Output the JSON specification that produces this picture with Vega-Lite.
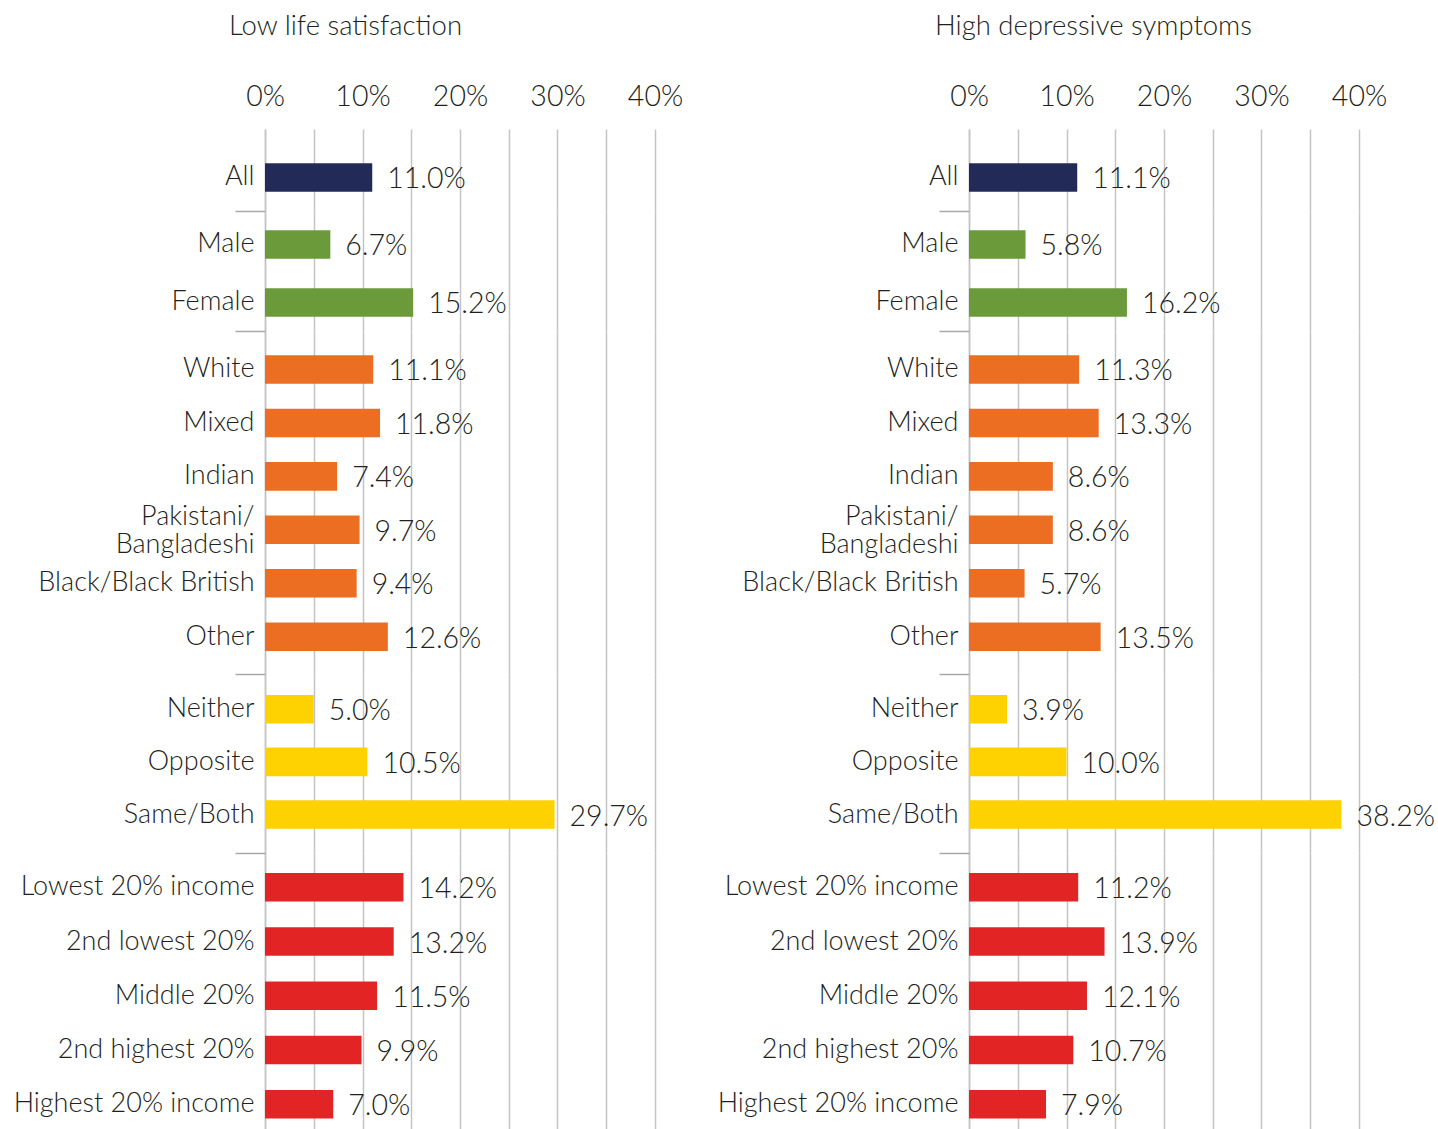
{
  "$schema": "https://vega.github.io/schema/vega-lite/v6.json",
  "background": "white",
  "padding": {"left": 13, "top": 12, "right": 2, "bottom": 0},
  "autosize": {"type": "pad"},
  "config": {"view": {"stroke": null}},
  "datasets": {
    "d": [
      {"m": "Low life satisfaction", "g": "All", "c": "All", "v": 0.110},
      {"m": "Low life satisfaction", "g": "Gender", "c": "Male", "v": 0.067},
      {"m": "Low life satisfaction", "g": "Gender", "c": "Female", "v": 0.152},
      {"m": "Low life satisfaction", "g": "Ethnicity", "c": "White", "v": 0.111},
      {"m": "Low life satisfaction", "g": "Ethnicity", "c": "Mixed", "v": 0.118},
      {"m": "Low life satisfaction", "g": "Ethnicity", "c": "Indian", "v": 0.074},
      {"m": "Low life satisfaction", "g": "Ethnicity", "c": "Pakistani/Bangladeshi", "v": 0.097},
      {"m": "Low life satisfaction", "g": "Ethnicity", "c": "Black/Black British", "v": 0.094},
      {"m": "Low life satisfaction", "g": "Ethnicity", "c": "Other", "v": 0.126},
      {"m": "Low life satisfaction", "g": "Sexual attraction", "c": "Neither", "v": 0.050},
      {"m": "Low life satisfaction", "g": "Sexual attraction", "c": "Opposite", "v": 0.105},
      {"m": "Low life satisfaction", "g": "Sexual attraction", "c": "Same/Both", "v": 0.297},
      {"m": "Low life satisfaction", "g": "Income", "c": "Lowest 20% income", "v": 0.142},
      {"m": "Low life satisfaction", "g": "Income", "c": "2nd lowest 20%", "v": 0.132},
      {"m": "Low life satisfaction", "g": "Income", "c": "Middle 20%", "v": 0.115},
      {"m": "Low life satisfaction", "g": "Income", "c": "2nd highest 20%", "v": 0.099},
      {"m": "Low life satisfaction", "g": "Income", "c": "Highest 20% income", "v": 0.070},
      {"m": "High depressive symptoms", "g": "All", "c": "All", "v": 0.111},
      {"m": "High depressive symptoms", "g": "Gender", "c": "Male", "v": 0.058},
      {"m": "High depressive symptoms", "g": "Gender", "c": "Female", "v": 0.162},
      {"m": "High depressive symptoms", "g": "Ethnicity", "c": "White", "v": 0.113},
      {"m": "High depressive symptoms", "g": "Ethnicity", "c": "Mixed", "v": 0.133},
      {"m": "High depressive symptoms", "g": "Ethnicity", "c": "Indian", "v": 0.086},
      {"m": "High depressive symptoms", "g": "Ethnicity", "c": "Pakistani/Bangladeshi", "v": 0.086},
      {"m": "High depressive symptoms", "g": "Ethnicity", "c": "Black/Black British", "v": 0.057},
      {"m": "High depressive symptoms", "g": "Ethnicity", "c": "Other", "v": 0.135},
      {"m": "High depressive symptoms", "g": "Sexual attraction", "c": "Neither", "v": 0.039},
      {"m": "High depressive symptoms", "g": "Sexual attraction", "c": "Opposite", "v": 0.100},
      {"m": "High depressive symptoms", "g": "Sexual attraction", "c": "Same/Both", "v": 0.382},
      {"m": "High depressive symptoms", "g": "Income", "c": "Lowest 20% income", "v": 0.112},
      {"m": "High depressive symptoms", "g": "Income", "c": "2nd lowest 20%", "v": 0.139},
      {"m": "High depressive symptoms", "g": "Income", "c": "Middle 20%", "v": 0.121},
      {"m": "High depressive symptoms", "g": "Income", "c": "2nd highest 20%", "v": 0.107},
      {"m": "High depressive symptoms", "g": "Income", "c": "Highest 20% income", "v": 0.079}
    ]
  },
  "columns": 2,
  "spacing": {"row": 0, "column": 314},
  "bounds": "flush",
  "resolve": {"scale": {"x": "independent", "y": "independent"}},
  "concat": [
    {
      "width": 390, "height": 82,
      "title": {"text": "Low life satisfaction", "anchor": "start", "frame": "group", "dx": -36, "offset": 20, "baseline": "alphabetic", "font": "Lato", "fontWeight": 300, "fontSize": 27.5, "color": "#231f20"},
      "data": {"name": "d"},
      "transform": [{"filter": "datum.m == 'Low life satisfaction' && datum.g == 'All'"}],
      "encoding": {
        "x": {"field": "v", "type": "quantitative", "scale": {"domain": [0, 0.4], "nice": false}, "axis": {"orient": "top", "values": [0, 0.05, 0.1, 0.15, 0.2, 0.25, 0.3, 0.35, 0.4], "format": ".0%", "labelExpr": "round(datum.value*100) % 10 == 0 ? datum.label : ''", "ticks": false, "tickSize": 0, "domain": false, "grid": true, "gridColor": "#c4c4c4", "gridWidth": 1.5, "labelFont": "Lato", "labelFontWeight": 300, "labelFontSize": 28.5, "labelColor": "#231f20", "labelPadding": 24, "labelBaseline": "alphabetic", "labelFlush": false, "labelOverlap": false, "title": null}},
        "y": {"field": "c", "type": "nominal", "sort": null, "scale": {"paddingInner": 0.47, "paddingOuter": 0.4944, "align": 0.64, "round": false}, "axis": {"title": null, "ticks": false, "tickSize": 0, "domain": true, "domainColor": "#c4c4c4", "domainWidth": 1.5, "labelFont": "Lato", "labelFontWeight": 300, "labelFontSize": 27, "labelColor": "#231f20", "labelPadding": 11, "labelLimit": 0}}
      },
      "layer": [
        {"mark": {"type": "bar"}, "encoding": {"color": {"field": "g", "type": "nominal", "scale": {"domain": ["All", "Gender", "Ethnicity", "Sexual attraction", "Income"], "range": ["#222b58", "#6b9a3b", "#ec6e23", "#fed100", "#e32424"]}, "legend": null}}},
        {"mark": {"type": "text", "align": "left", "baseline": "middle", "dx": 15, "dy": 2, "font": "Lato", "fontWeight": 300, "fontSize": 28.5, "color": "#231f20"}, "encoding": {"text": {"field": "v", "type": "quantitative", "format": ".1%"}}}
      ]
    },
    {
      "width": 390, "height": 82,
      "title": {"text": "High depressive symptoms", "anchor": "start", "frame": "group", "dx": -34, "offset": 20, "baseline": "alphabetic", "font": "Lato", "fontWeight": 300, "fontSize": 27.5, "color": "#231f20"},
      "data": {"name": "d"},
      "transform": [{"filter": "datum.m == 'High depressive symptoms' && datum.g == 'All'"}],
      "encoding": {
        "x": {"field": "v", "type": "quantitative", "scale": {"domain": [0, 0.4], "nice": false}, "axis": {"orient": "top", "values": [0, 0.05, 0.1, 0.15, 0.2, 0.25, 0.3, 0.35, 0.4], "format": ".0%", "labelExpr": "round(datum.value*100) % 10 == 0 ? datum.label : ''", "ticks": false, "tickSize": 0, "domain": false, "grid": true, "gridColor": "#c4c4c4", "gridWidth": 1.5, "labelFont": "Lato", "labelFontWeight": 300, "labelFontSize": 28.5, "labelColor": "#231f20", "labelPadding": 24, "labelBaseline": "alphabetic", "labelFlush": false, "labelOverlap": false, "title": null}},
        "y": {"field": "c", "type": "nominal", "sort": null, "scale": {"paddingInner": 0.47, "paddingOuter": 0.4944, "align": 0.64, "round": false}, "axis": {"title": null, "ticks": false, "tickSize": 0, "domain": true, "domainColor": "#c4c4c4", "domainWidth": 1.5, "labelFont": "Lato", "labelFontWeight": 300, "labelFontSize": 27, "labelColor": "#231f20", "labelPadding": 11, "labelLimit": 0}}
      },
      "layer": [
        {"mark": {"type": "bar"}, "encoding": {"color": {"field": "g", "type": "nominal", "scale": {"domain": ["All", "Gender", "Ethnicity", "Sexual attraction", "Income"], "range": ["#222b58", "#6b9a3b", "#ec6e23", "#fed100", "#e32424"]}, "legend": null}}},
        {"mark": {"type": "text", "align": "left", "baseline": "middle", "dx": 15, "dy": 2, "font": "Lato", "fontWeight": 300, "fontSize": 28.5, "color": "#231f20"}, "encoding": {"text": {"field": "v", "type": "quantitative", "format": ".1%"}}}
      ]
    },
    {
      "width": 390, "height": 121,
      "data": {"name": "d"},
      "transform": [{"filter": "datum.m == 'Low life satisfaction' && datum.g == 'Gender'"}],
      "encoding": {
        "x": {"field": "v", "type": "quantitative", "scale": {"domain": [0, 0.4], "nice": false}, "axis": {"orient": "top", "values": [0, 0.05, 0.1, 0.15, 0.2, 0.25, 0.3, 0.35, 0.4], "labels": false, "ticks": false, "domain": false, "grid": true, "gridColor": "#c4c4c4", "gridWidth": 1.5, "title": null}},
        "y": {"field": "c", "type": "nominal", "sort": null, "scale": {"paddingInner": 0.507, "paddingOuter": 0.2966, "align": 0.558, "round": false}, "axis": {"title": null, "ticks": false, "tickSize": 0, "domain": true, "domainColor": "#c4c4c4", "domainWidth": 1.5, "labelFont": "Lato", "labelFontWeight": 300, "labelFontSize": 27, "labelColor": "#231f20", "labelPadding": 11, "labelLimit": 0}}
      },
      "layer": [
        {"mark": {"type": "bar"}, "encoding": {"color": {"field": "g", "type": "nominal", "scale": {"domain": ["All", "Gender", "Ethnicity", "Sexual attraction", "Income"], "range": ["#222b58", "#6b9a3b", "#ec6e23", "#fed100", "#e32424"]}, "legend": null}}},
        {"mark": {"type": "text", "align": "left", "baseline": "middle", "dx": 15, "dy": 2, "font": "Lato", "fontWeight": 300, "fontSize": 28.5, "color": "#231f20"}, "encoding": {"text": {"field": "v", "type": "quantitative", "format": ".1%"}, "y": {"field": "c", "type": "nominal", "sort": null, "axis": {"orient": "left", "values": ["Male"], "bandPosition": -0.671, "ticks": true, "tickSize": 30, "tickColor": "#a8a8a8", "tickWidth": 1.5, "labels": false, "domain": false, "grid": false, "title": null}}}}
      ],
      "resolve": {"axis": {"y": "independent"}}
    },
    {
      "width": 390, "height": 121,
      "data": {"name": "d"},
      "transform": [{"filter": "datum.m == 'High depressive symptoms' && datum.g == 'Gender'"}],
      "encoding": {
        "x": {"field": "v", "type": "quantitative", "scale": {"domain": [0, 0.4], "nice": false}, "axis": {"orient": "top", "values": [0, 0.05, 0.1, 0.15, 0.2, 0.25, 0.3, 0.35, 0.4], "labels": false, "ticks": false, "domain": false, "grid": true, "gridColor": "#c4c4c4", "gridWidth": 1.5, "title": null}},
        "y": {"field": "c", "type": "nominal", "sort": null, "scale": {"paddingInner": 0.507, "paddingOuter": 0.2966, "align": 0.558, "round": false}, "axis": {"title": null, "ticks": false, "tickSize": 0, "domain": true, "domainColor": "#c4c4c4", "domainWidth": 1.5, "labelFont": "Lato", "labelFontWeight": 300, "labelFontSize": 27, "labelColor": "#231f20", "labelPadding": 11, "labelLimit": 0}}
      },
      "layer": [
        {"mark": {"type": "bar"}, "encoding": {"color": {"field": "g", "type": "nominal", "scale": {"domain": ["All", "Gender", "Ethnicity", "Sexual attraction", "Income"], "range": ["#222b58", "#6b9a3b", "#ec6e23", "#fed100", "#e32424"]}, "legend": null}}},
        {"mark": {"type": "text", "align": "left", "baseline": "middle", "dx": 15, "dy": 2, "font": "Lato", "fontWeight": 300, "fontSize": 28.5, "color": "#231f20"}, "encoding": {"text": {"field": "v", "type": "quantitative", "format": ".1%"}, "y": {"field": "c", "type": "nominal", "sort": null, "axis": {"orient": "left", "values": ["Male"], "bandPosition": -0.671, "ticks": true, "tickSize": 30, "tickColor": "#a8a8a8", "tickWidth": 1.5, "labels": false, "domain": false, "grid": false, "title": null}}}}
      ],
      "resolve": {"axis": {"y": "independent"}}
    },
    {
      "width": 390, "height": 342,
      "data": {"name": "d"},
      "transform": [{"filter": "datum.m == 'Low life satisfaction' && datum.g == 'Ethnicity'"}],
      "encoding": {
        "x": {"field": "v", "type": "quantitative", "scale": {"domain": [0, 0.4], "nice": false}, "axis": {"orient": "top", "values": [0, 0.05, 0.1, 0.15, 0.2, 0.25, 0.3, 0.35, 0.4], "labels": false, "ticks": false, "domain": false, "grid": true, "gridColor": "#c4c4c4", "gridWidth": 1.5, "title": null}},
        "y": {"field": "c", "type": "nominal", "sort": null, "scale": {"paddingInner": 0.4648, "paddingOuter": 0.4323, "align": 0.502, "round": false}, "axis": {"title": null, "ticks": false, "tickSize": 0, "domain": true, "domainColor": "#c4c4c4", "domainWidth": 1.5, "labelFont": "Lato", "labelFontWeight": 300, "labelFontSize": 27, "labelColor": "#231f20", "labelPadding": 11, "labelLimit": 0, "labelLineHeight": 28, "labelExpr": "datum.label == 'Pakistani/Bangladeshi' ? ['Pakistani/', 'Bangladeshi'] : datum.label", "labelOffset": {"condition": {"test": "datum.value == 'Pakistani/Bangladeshi'", "value": -13}, "value": 0}}}
      },
      "layer": [
        {"mark": {"type": "bar"}, "encoding": {"color": {"field": "g", "type": "nominal", "scale": {"domain": ["All", "Gender", "Ethnicity", "Sexual attraction", "Income"], "range": ["#222b58", "#6b9a3b", "#ec6e23", "#fed100", "#e32424"]}, "legend": null}}},
        {"mark": {"type": "text", "align": "left", "baseline": "middle", "dx": 15, "dy": 2, "font": "Lato", "fontWeight": 300, "fontSize": 28.5, "color": "#231f20"}, "encoding": {"text": {"field": "v", "type": "quantitative", "format": ".1%"}, "y": {"field": "c", "type": "nominal", "sort": null, "axis": {"orient": "left", "values": ["White"], "bandPosition": -0.811, "ticks": true, "tickSize": 30, "tickColor": "#a8a8a8", "tickWidth": 1.5, "labels": false, "domain": false, "grid": false, "title": null}}}}
      ],
      "resolve": {"axis": {"y": "independent"}}
    },
    {
      "width": 390, "height": 342,
      "data": {"name": "d"},
      "transform": [{"filter": "datum.m == 'High depressive symptoms' && datum.g == 'Ethnicity'"}],
      "encoding": {
        "x": {"field": "v", "type": "quantitative", "scale": {"domain": [0, 0.4], "nice": false}, "axis": {"orient": "top", "values": [0, 0.05, 0.1, 0.15, 0.2, 0.25, 0.3, 0.35, 0.4], "labels": false, "ticks": false, "domain": false, "grid": true, "gridColor": "#c4c4c4", "gridWidth": 1.5, "title": null}},
        "y": {"field": "c", "type": "nominal", "sort": null, "scale": {"paddingInner": 0.4648, "paddingOuter": 0.4323, "align": 0.502, "round": false}, "axis": {"title": null, "ticks": false, "tickSize": 0, "domain": true, "domainColor": "#c4c4c4", "domainWidth": 1.5, "labelFont": "Lato", "labelFontWeight": 300, "labelFontSize": 27, "labelColor": "#231f20", "labelPadding": 11, "labelLimit": 0, "labelLineHeight": 28, "labelExpr": "datum.label == 'Pakistani/Bangladeshi' ? ['Pakistani/', 'Bangladeshi'] : datum.label", "labelOffset": {"condition": {"test": "datum.value == 'Pakistani/Bangladeshi'", "value": -13}, "value": 0}}}
      },
      "layer": [
        {"mark": {"type": "bar"}, "encoding": {"color": {"field": "g", "type": "nominal", "scale": {"domain": ["All", "Gender", "Ethnicity", "Sexual attraction", "Income"], "range": ["#222b58", "#6b9a3b", "#ec6e23", "#fed100", "#e32424"]}, "legend": null}}},
        {"mark": {"type": "text", "align": "left", "baseline": "middle", "dx": 15, "dy": 2, "font": "Lato", "fontWeight": 300, "fontSize": 28.5, "color": "#231f20"}, "encoding": {"text": {"field": "v", "type": "quantitative", "format": ".1%"}, "y": {"field": "c", "type": "nominal", "sort": null, "axis": {"orient": "left", "values": ["White"], "bandPosition": -0.811, "ticks": true, "tickSize": 30, "tickColor": "#a8a8a8", "tickWidth": 1.5, "labels": false, "domain": false, "grid": false, "title": null}}}}
      ],
      "resolve": {"axis": {"y": "independent"}}
    },
    {
      "width": 390, "height": 179,
      "data": {"name": "d"},
      "transform": [{"filter": "datum.m == 'Low life satisfaction' && datum.g == 'Sexual attraction'"}],
      "encoding": {
        "x": {"field": "v", "type": "quantitative", "scale": {"domain": [0, 0.4], "nice": false}, "axis": {"orient": "top", "values": [0, 0.05, 0.1, 0.15, 0.2, 0.25, 0.3, 0.35, 0.4], "labels": false, "ticks": false, "domain": false, "grid": true, "gridColor": "#c4c4c4", "gridWidth": 1.5, "title": null}},
        "y": {"field": "c", "type": "nominal", "sort": null, "scale": {"paddingInner": 0.4563, "paddingOuter": 0.4297, "align": 0.465, "round": false}, "axis": {"title": null, "ticks": false, "tickSize": 0, "domain": true, "domainColor": "#c4c4c4", "domainWidth": 1.5, "labelFont": "Lato", "labelFontWeight": 300, "labelFontSize": 27, "labelColor": "#231f20", "labelPadding": 11, "labelLimit": 0}}
      },
      "layer": [
        {"mark": {"type": "bar"}, "encoding": {"color": {"field": "g", "type": "nominal", "scale": {"domain": ["All", "Gender", "Ethnicity", "Sexual attraction", "Income"], "range": ["#222b58", "#6b9a3b", "#ec6e23", "#fed100", "#e32424"]}, "legend": null}}},
        {"mark": {"type": "text", "align": "left", "baseline": "middle", "dx": 15, "dy": 2, "font": "Lato", "fontWeight": 300, "fontSize": 28.5, "color": "#231f20"}, "encoding": {"text": {"field": "v", "type": "quantitative", "format": ".1%"}, "y": {"field": "c", "type": "nominal", "sort": null, "axis": {"orient": "left", "values": ["Neither"], "bandPosition": -0.734, "ticks": true, "tickSize": 30, "tickColor": "#a8a8a8", "tickWidth": 1.5, "labels": false, "domain": false, "grid": false, "title": null}}}}
      ],
      "resolve": {"axis": {"y": "independent"}}
    },
    {
      "width": 390, "height": 179,
      "data": {"name": "d"},
      "transform": [{"filter": "datum.m == 'High depressive symptoms' && datum.g == 'Sexual attraction'"}],
      "encoding": {
        "x": {"field": "v", "type": "quantitative", "scale": {"domain": [0, 0.4], "nice": false}, "axis": {"orient": "top", "values": [0, 0.05, 0.1, 0.15, 0.2, 0.25, 0.3, 0.35, 0.4], "labels": false, "ticks": false, "domain": false, "grid": true, "gridColor": "#c4c4c4", "gridWidth": 1.5, "title": null}},
        "y": {"field": "c", "type": "nominal", "sort": null, "scale": {"paddingInner": 0.4563, "paddingOuter": 0.4297, "align": 0.465, "round": false}, "axis": {"title": null, "ticks": false, "tickSize": 0, "domain": true, "domainColor": "#c4c4c4", "domainWidth": 1.5, "labelFont": "Lato", "labelFontWeight": 300, "labelFontSize": 27, "labelColor": "#231f20", "labelPadding": 11, "labelLimit": 0}}
      },
      "layer": [
        {"mark": {"type": "bar"}, "encoding": {"color": {"field": "g", "type": "nominal", "scale": {"domain": ["All", "Gender", "Ethnicity", "Sexual attraction", "Income"], "range": ["#222b58", "#6b9a3b", "#ec6e23", "#fed100", "#e32424"]}, "legend": null}}},
        {"mark": {"type": "text", "align": "left", "baseline": "middle", "dx": 15, "dy": 2, "font": "Lato", "fontWeight": 300, "fontSize": 28.5, "color": "#231f20"}, "encoding": {"text": {"field": "v", "type": "quantitative", "format": ".1%"}, "y": {"field": "c", "type": "nominal", "sort": null, "axis": {"orient": "left", "values": ["Neither"], "bandPosition": -0.734, "ticks": true, "tickSize": 30, "tickColor": "#a8a8a8", "tickWidth": 1.5, "labels": false, "domain": false, "grid": false, "title": null}}}}
      ],
      "resolve": {"axis": {"y": "independent"}}
    },
    {
      "width": 390, "height": 277,
      "data": {"name": "d"},
      "transform": [{"filter": "datum.m == 'Low life satisfaction' && datum.g == 'Income'"}],
      "encoding": {
        "x": {"field": "v", "type": "quantitative", "scale": {"domain": [0, 0.4], "nice": false}, "axis": {"orient": "top", "values": [0, 0.05, 0.1, 0.15, 0.2, 0.25, 0.3, 0.35, 0.4], "labels": false, "ticks": false, "domain": false, "grid": true, "gridColor": "#c4c4c4", "gridWidth": 1.5, "title": null}},
        "y": {"field": "c", "type": "nominal", "sort": null, "scale": {"paddingInner": 0.4728, "paddingOuter": 0.2894, "align": 0.637, "round": false}, "axis": {"title": null, "ticks": false, "tickSize": 0, "domain": true, "domainColor": "#c4c4c4", "domainWidth": 1.5, "labelFont": "Lato", "labelFontWeight": 300, "labelFontSize": 27, "labelColor": "#231f20", "labelPadding": 11, "labelLimit": 0}}
      },
      "layer": [
        {"mark": {"type": "bar"}, "encoding": {"color": {"field": "g", "type": "nominal", "scale": {"domain": ["All", "Gender", "Ethnicity", "Sexual attraction", "Income"], "range": ["#222b58", "#6b9a3b", "#ec6e23", "#fed100", "#e32424"]}, "legend": null}}},
        {"mark": {"type": "text", "align": "left", "baseline": "middle", "dx": 15, "dy": 2, "font": "Lato", "fontWeight": 300, "fontSize": 28.5, "color": "#231f20"}, "encoding": {"text": {"field": "v", "type": "quantitative", "format": ".1%"}, "y": {"field": "c", "type": "nominal", "sort": null, "axis": {"orient": "left", "values": ["Lowest 20% income"], "bandPosition": -0.699, "ticks": true, "tickSize": 30, "tickColor": "#a8a8a8", "tickWidth": 1.5, "labels": false, "domain": false, "grid": false, "title": null}}}}
      ],
      "resolve": {"axis": {"y": "independent"}}
    },
    {
      "width": 390, "height": 277,
      "data": {"name": "d"},
      "transform": [{"filter": "datum.m == 'High depressive symptoms' && datum.g == 'Income'"}],
      "encoding": {
        "x": {"field": "v", "type": "quantitative", "scale": {"domain": [0, 0.4], "nice": false}, "axis": {"orient": "top", "values": [0, 0.05, 0.1, 0.15, 0.2, 0.25, 0.3, 0.35, 0.4], "labels": false, "ticks": false, "domain": false, "grid": true, "gridColor": "#c4c4c4", "gridWidth": 1.5, "title": null}},
        "y": {"field": "c", "type": "nominal", "sort": null, "scale": {"paddingInner": 0.4728, "paddingOuter": 0.2894, "align": 0.637, "round": false}, "axis": {"title": null, "ticks": false, "tickSize": 0, "domain": true, "domainColor": "#c4c4c4", "domainWidth": 1.5, "labelFont": "Lato", "labelFontWeight": 300, "labelFontSize": 27, "labelColor": "#231f20", "labelPadding": 11, "labelLimit": 0}}
      },
      "layer": [
        {"mark": {"type": "bar"}, "encoding": {"color": {"field": "g", "type": "nominal", "scale": {"domain": ["All", "Gender", "Ethnicity", "Sexual attraction", "Income"], "range": ["#222b58", "#6b9a3b", "#ec6e23", "#fed100", "#e32424"]}, "legend": null}}},
        {"mark": {"type": "text", "align": "left", "baseline": "middle", "dx": 15, "dy": 2, "font": "Lato", "fontWeight": 300, "fontSize": 28.5, "color": "#231f20"}, "encoding": {"text": {"field": "v", "type": "quantitative", "format": ".1%"}, "y": {"field": "c", "type": "nominal", "sort": null, "axis": {"orient": "left", "values": ["Lowest 20% income"], "bandPosition": -0.699, "ticks": true, "tickSize": 30, "tickColor": "#a8a8a8", "tickWidth": 1.5, "labels": false, "domain": false, "grid": false, "title": null}}}}
      ],
      "resolve": {"axis": {"y": "independent"}}
    }
  ]
}
